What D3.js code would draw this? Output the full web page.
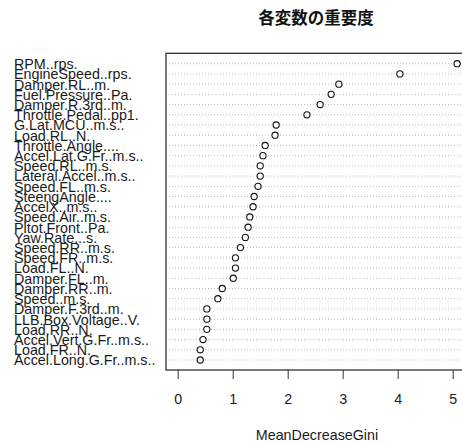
<!DOCTYPE html>
<html><head><meta charset="utf-8">
<script src="https://cdn.jsdelivr.net/npm/d3@7"></script>
<style>body{margin:0;background:#fff}</style>
</head><body>
<svg id="chart" width="462" height="443"></svg>
<script>
const variables = ["RPM..rps.","EngineSpeed..rps.","Damper.RL..m.","Fuel.Pressure..Pa.","Damper.R.3rd..m.","Throttle.Pedal..pp1.","G.Lat.MCU..m.s..","Load.RL..N.","Throttle.Angle....","Accel.Lat.G.Fr..m.s..","Speed.RL..m.s.","Lateral.Accel..m.s..","Speed.FL..m.s.","SteengAngle....","AccelX..m.s..","Speed.Air..m.s.","Pitot.Front..Pa.","Yaw.Rate...s.","Speed.RR..m.s.","Speed.FR..m.s.","Load.FL..N.","Damper.FL..m.","Damper.RR..m.","Speed..m.s.","Damper.F.3rd..m.","LLB.Box.Voltage..V.","Load.RR..N.","Accel.Vert.G.Fr..m.s..","Load.FR..N.","Accel.Long.G.Fr..m.s.."];
const meanDecreaseGini = [5.08,4.04,2.93,2.79,2.59,2.35,1.79,1.77,1.59,1.55,1.50,1.50,1.46,1.39,1.37,1.31,1.28,1.23,1.14,1.05,1.05,1.01,0.81,0.73,0.53,0.53,0.53,0.46,0.41,0.41];
const xTicks = [0,1,2,3,4,5];
const title = "各変数の重要度";
const xLabel = "MeanDecreaseGini";

const svg = d3.select("#chart");
const box = {left:166, top:53.3, right:480, bottom:370};
const x = d3.scaleLinear().domain([0,5]).range([177.7,452.7]);
const y = d3.scalePoint().domain(variables).range([63.7,360]);

const font = "'Liberation Sans', Arial, sans-serif";

// grid lines
svg.append("g").selectAll("line").data(variables).join("line")
  .attr("x1", box.left).attr("x2", 462)
  .attr("y1", d=>y(d)).attr("y2", d=>y(d))
  .attr("stroke", "#bdbdbd").attr("stroke-width", 1)
  .attr("stroke-dasharray", "1,2");

// box
svg.append("rect").attr("x", box.left).attr("y", box.top)
  .attr("width", box.right-box.left).attr("height", box.bottom-box.top)
  .attr("fill","none").attr("stroke","#333").attr("stroke-width",1.3);

// points
svg.append("g").selectAll("circle").data(variables).join("circle")
  .attr("cx", (d,i)=>x(meanDecreaseGini[i])).attr("cy", d=>y(d))
  .attr("r", 3.1).attr("fill","#fff").attr("stroke","#111").attr("stroke-width",1.1);

// labels
svg.append("g").selectAll("text").data(variables).join("text")
  .attr("x", 14).attr("y", d=>y(d)+5.4)
  .attr("font-family", font).attr("font-size", 14.3).attr("fill","#1a1a1a")
  .text(d=>d);

// x axis
const ax = svg.append("g").attr("transform", `translate(0,${box.bottom})`)
  .call(d3.axisBottom(x).tickValues(xTicks).tickSize(9).tickPadding(15).tickFormat(d3.format("d")));
ax.select(".domain").remove();
ax.selectAll("line").attr("stroke","#333");
ax.selectAll("text").attr("font-family", font).attr("font-size", 14.3).attr("fill","#1a1a1a");

svg.append("text").attr("x", 317).attr("y", 440).attr("text-anchor","middle")
  .attr("font-family", font).attr("font-size", 14.3).attr("fill","#1a1a1a").text(xLabel);

svg.append("text").attr("x", 316).attr("y", 24).attr("text-anchor","middle")
  .attr("font-family", "'Noto Sans CJK JP', sans-serif").attr("font-weight","bold")
  .attr("font-size", 16.5).attr("fill","#111").text(title);
</script>
</body></html>
